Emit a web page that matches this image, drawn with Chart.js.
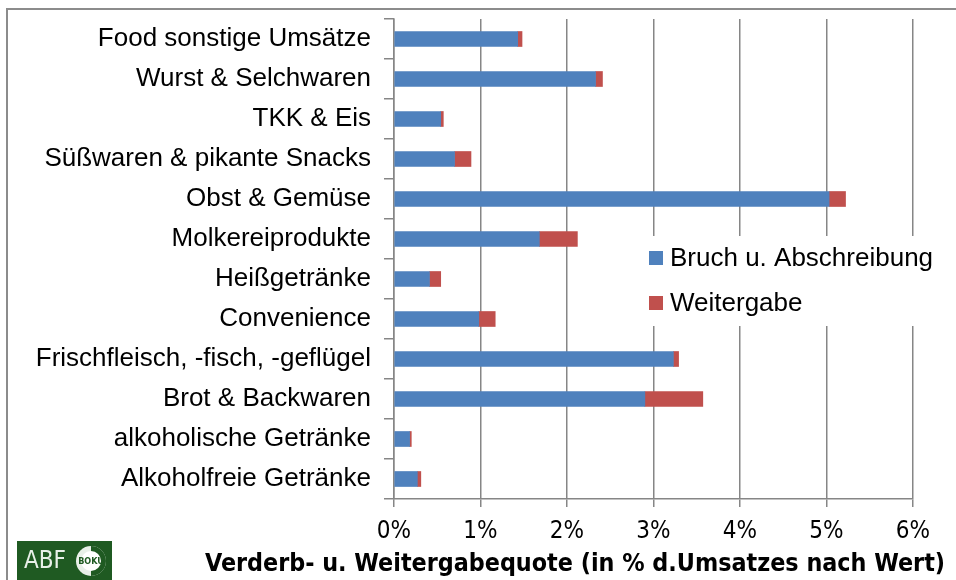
<!DOCTYPE html>
<html>
<head>
<meta charset="utf-8">
<script src="https://cdn.jsdelivr.net/npm/chart.js@4"></script>
<style>
  html, body { margin: 0; padding: 0; background: #fff; }
  canvas { display: block; }
</style>
</head>
<body>
<canvas id="lossChart" width="956" height="580"></canvas>
<script>
    const categories = [
        'Food sonstige Umsätze',
        'Wurst & Selchwaren',
        'TKK & Eis',
        'Süßwaren & pikante Snacks',
        'Obst & Gemüse',
        'Molkereiprodukte',
        'Heißgetränke',
        'Convenience',
        'Frischfleisch, -fisch, -geflügel',
        'Brot & Backwaren',
        'alkoholische Getränke',
        'Alkoholfreie Getränke'
    ];
    const bruchValues = [1.43, 2.33, 0.54, 0.70, 5.03, 1.68, 0.41, 0.98, 3.23, 2.90, 0.18, 0.27];
    const weitergabeValues = [0.05, 0.08, 0.03, 0.19, 0.19, 0.44, 0.13, 0.19, 0.06, 0.67, 0.02, 0.04];
    const seriesNames = ['Bruch u. Abschreibung', 'Weitergabe'];
    const xTicks = [0, 1, 2, 3, 4, 5, 6];
    const axisTitle = 'Verderb- u. Weitergabequote (in % d.Umsatzes nach Wert)';

    const gridGray = '#868686';
    const narrow = "'Liberation Sans Narrow', 'Arial Narrow', 'DejaVu Sans Condensed', sans-serif";
    const regular = "'Liberation Sans', Arial, sans-serif";

    // frame, legend box, axis title and logo
    const decorPlugin = {
        id: 'decor',
        beforeDraw(chart) {
            const ctx = chart.ctx;
            ctx.save();
            ctx.fillStyle = '#fff';
            ctx.fillRect(0, 0, chart.width, chart.height);
            ctx.strokeStyle = '#8c8c8c';
            ctx.lineWidth = 2;
            ctx.strokeRect(7, 9, chart.width + 20, chart.height + 20);
            ctx.restore();
        },
        afterDatasetsDraw(chart) {
            const ctx = chart.ctx;
            ctx.save();
            // legend
            ctx.fillStyle = '#fff';
            ctx.fillRect(640, 236, 310, 90);
            ctx.font = '26px ' + regular;
            ctx.textBaseline = 'middle';
            ctx.textAlign = 'left';
            chart.data.datasets.forEach((ds, i) => {
                const y = 258 + i * 45;
                ctx.fillStyle = ds.backgroundColor;
                ctx.fillRect(649, y - 7, 14, 14);
                ctx.fillStyle = '#000';
                ctx.fillText(ds.label, 670, y + 1);
            });
            ctx.restore();
        },
        afterDraw(chart) {
            const ctx = chart.ctx;
            ctx.save();
            // axis title, squeezed to the width it has in the original
            ctx.font = 'bold 24px ' + narrow;
            ctx.fillStyle = '#000';
            ctx.textAlign = 'center';
            ctx.textBaseline = 'middle';
            const w = ctx.measureText(axisTitle).width;
            ctx.translate(575, 565);
            ctx.scale(740 / w, 1);
            ctx.fillText(axisTitle, 0, 0);
            ctx.restore();

            ctx.save();
            // logo
            ctx.fillStyle = '#1f5a22';
            ctx.fillRect(17, 541, 95, 40);
            ctx.fillStyle = '#e8f0e8';
            ctx.font = '24px ' + narrow;
            ctx.textAlign = 'left';
            ctx.textBaseline = 'middle';
            ctx.fillText('ABF', 24, 562);
            ctx.beginPath();
            ctx.arc(91, 561, 15, 0, Math.PI * 2);
            ctx.fill();
            ctx.fillStyle = '#1f5a22';
            ctx.beginPath();
            ctx.arc(91, 561, 15, -Math.PI / 2, Math.PI / 2);
            ctx.fill();
            ctx.beginPath();
            ctx.arc(91, 561, 10, 0, Math.PI * 2);
            ctx.fillStyle = '#fff';
            ctx.fill();
            ctx.fillStyle = '#1f5a22';
            ctx.font = 'bold 9px ' + narrow;
            ctx.textAlign = 'center';
            ctx.fillText('BOKU', 91, 562);
            ctx.restore();
        }
    };

    new Chart(document.getElementById('lossChart').getContext('2d'), {
        type: 'bar',
        data: {
            labels: categories,
            datasets: [{
                label: seriesNames[0],
                data: bruchValues,
                backgroundColor: '#4f81bd',
                barThickness: 15
            }, {
                label: seriesNames[1],
                data: weitergabeValues,
                backgroundColor: '#c0504d',
                barThickness: 15
            }]
        },
        options: {
            indexAxis: 'y',
            responsive: false,
            animation: false,
            layout: { padding: { top: 19, right: 43, left: 0, bottom: 0 } },
            plugins: {
                legend: { display: false },
                tooltip: { enabled: false }
            },
            scales: {
                x: {
                    stacked: true,
                    min: 0,
                    max: 6,
                    afterFit(scale) {
                        scale.height = 81;
                        scale.paddingLeft = 0;
                        scale.paddingRight = 0;
                    },
                    afterBuildTicks(scale) { scale.ticks = xTicks.map(v => ({ value: v })); },
                    grid: { color: gridGray, lineWidth: 1.5, tickLength: 8 },
                    border: { color: gridGray, width: 1.5 },
                    ticks: {
                        padding: 10,
                        color: '#000',
                        font: { size: 24, family: narrow },
                        callback: v => v + '%'
                    }
                },
                y: {
                    stacked: true,
                    afterFit(scale) {
                        scale.width = 394;
                        scale.paddingTop = 0;
                        scale.paddingBottom = 0;
                    },
                    grid: { drawOnChartArea: false, color: gridGray, lineWidth: 1.5, tickLength: 10 },
                    border: { color: gridGray, width: 1.5 },
                    ticks: {
                        padding: 13,
                        color: '#000',
                        font: { size: 26, family: regular }
                    }
                }
            }
        },
        plugins: [decorPlugin]
    });
</script>
</body>
</html>
